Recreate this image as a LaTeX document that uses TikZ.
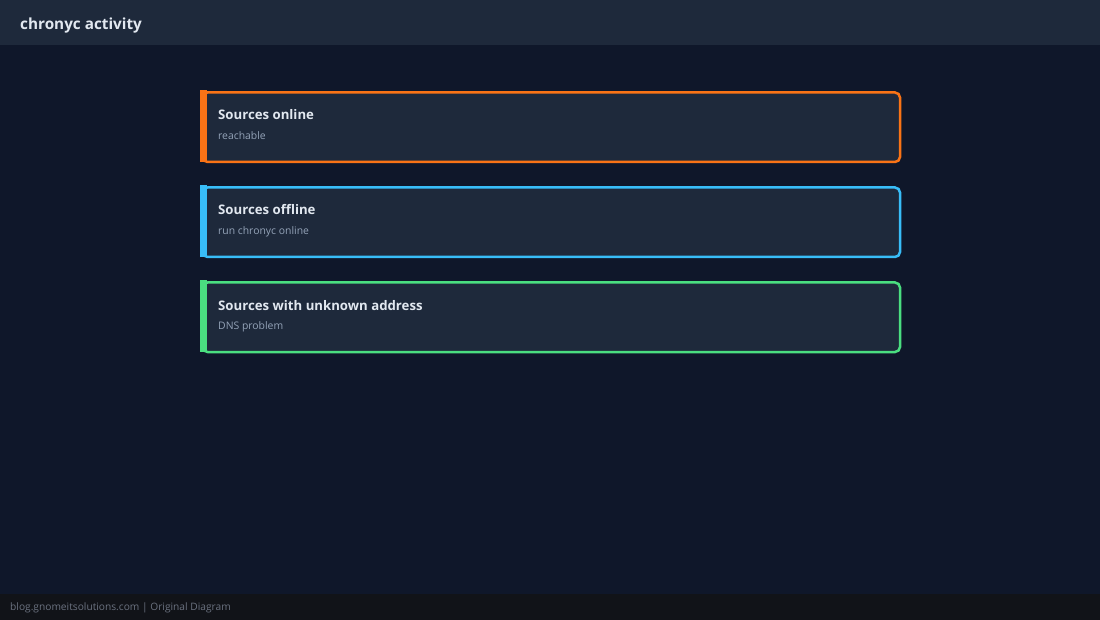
\documentclass[tikz,border=0pt]{standalone}
\usepackage{fontspec}
\setmainfont{Open Sans}
\definecolor{bg}{HTML}{0F172A}
\definecolor{hdr}{HTML}{1E293B}
\definecolor{card}{HTML}{1E293B}
\definecolor{foot}{HTML}{111318}
\definecolor{ttl}{HTML}{E2E8F0}
\definecolor{sub}{HTML}{94A3B8}
\definecolor{ftx}{HTML}{6B7280}
\definecolor{corange}{HTML}{F97316}
\definecolor{cblue}{HTML}{38BDF8}
\definecolor{cgreen}{HTML}{4ADE80}
\tikzset{
  cardbox/.style={draw=#1, line width=2.5pt, fill=card, rounded corners=5pt, minimum width=697.5pt, minimum height=69.5pt, anchor=north west, inner sep=0pt},
  cardbar/.style={fill=#1, draw=none, minimum width=7pt, minimum height=72pt, anchor=north west, inner sep=0pt},
  cardtitle/.style={text=ttl, font=\bfseries\fontsize{13.2pt}{15pt}\selectfont, anchor=base west, inner sep=0pt},
  cardsub/.style={text=sub, font=\fontsize{10.4pt}{12pt}\selectfont, anchor=base west, inner sep=0pt},
}
\begin{document}
\begin{tikzpicture}[x=1pt,y=-1pt]
\useasboundingbox (0,0) rectangle (1100,620);
\fill[bg] (0,0) rectangle (1100,620);
\fill[hdr] (0,0) rectangle (1100,45);
\fill[foot] (0,594) rectangle (1100,620);
\node[text=ttl, font=\bfseries\fontsize{15.3pt}{18pt}\selectfont, anchor=base west, inner sep=0pt] (title) at (20,30) {chronyc activity};

\node[cardbox=corange] (c1) at (201.25,91.25) {};
\node[cardbar=corange] (b1) at (200,90) {};
\node[cardtitle] (t1) at (218,120) {Sources online};
\node[cardsub] (s1) at (218,140) {reachable};

\node[cardbox=cblue] (c2) at (201.25,186.25) {};
\node[cardbar=cblue] (b2) at (200,185) {};
\node[cardtitle] (t2) at (218,215) {Sources offline};
\node[cardsub] (s2) at (218,235) {run chronyc online};

\node[cardbox=cgreen] (c3) at (201.25,281.25) {};
\node[cardbar=cgreen] (b3) at (200,280) {};
\node[cardtitle] (t3) at (218,310) {Sources with unknown address};
\node[cardsub] (s3) at (218,330) {DNS problem};

\node[text=ftx, font=\fontsize{10.2pt}{12pt}\selectfont, anchor=base west, inner sep=0pt] (foot) at (10,610) {blog.gnomeitsolutions.com | Original Diagram};
\end{tikzpicture}
\end{document}
